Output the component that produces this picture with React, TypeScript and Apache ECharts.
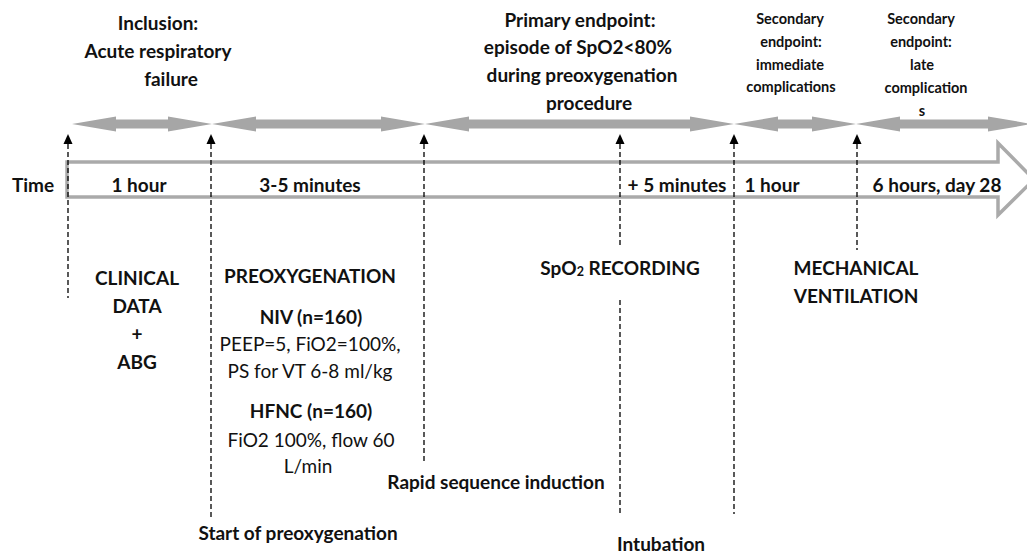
import React, { useEffect, useRef } from "react";
import * as echarts from "echarts";

// ---- data (positions along the drawn timeline, in page units) ----
const phaseStart = [72, 212, 425, 734, 856];
const phaseEnd = [212, 425, 734, 856, 1032];
const timelineStart = [67];
const timelineEnd = [998];
const eventX = [68, 211, 424, 620, 734, 857];
const eventLineEnd = [298, 517, 462, 514, 514, 250];
const eventGapStart = [0, 0, 0, 246, 0, 0];
const eventGapEnd = [0, 0, 0, 300, 0, 0];

const intervalLabels = ["Time", "1 hour", "3-5 minutes", "+ 5 minutes", "1 hour", "6 hours, day 28"];
const inclusionLines = ["Inclusion:", "Acute respiratory", "failure"];
const primaryLines = ["Primary endpoint:", "episode of SpO2<80%", "during preoxygenation", "procedure"];
const secondary1Lines = ["Secondary", "endpoint:", "immediate", "complications"];
const secondary2Lines = ["Secondary", "endpoint:", "late", "complication", "s"];
const clinicalLines = ["CLINICAL", "DATA", "+", "ABG"];
const preoxLines = ["PREOXYGENATION", "NIV (n=160)", "PEEP=5, FiO2=100%,", "PS for VT 6-8 ml/kg", "HFNC (n=160)", "FiO2 100%, flow 60", "L/min"];
const preoxBold = [true, true, false, false, true, false, false];
const mechLines = ["MECHANICAL", "VENTILATION"];
const bottomLabels = ["Rapid sequence induction", "Start of preoxygenation", "Intubation"];

// ---- layout ----
const W = 1027;
const H = 555;
const ARROW_Y = 124;
const TL_TOP = 162;
const TL_BOT = 197;
const HEAD_TOP = 143;
const HEAD_BOT = 215;
const HEAD_TIP = 1034;
const MARK_TIP = 134;
const FONT = "Lato";
const BIG = 19;
const SMALL = 14.5;
const TXT = "#111";
const GRAY = "#a6a6a6";

const intervalX = [33, 139, 310, 677, 772, 937];
const inclusionPos = [[158, 22], [158, 50], [171, 78]];
const primaryPos = [[580, 19], [578, 46], [582, 74], [589, 102]];
const sec1Pos = [[790, 18], [791, 41], [790, 64], [791, 86]];
const sec2Pos = [[921, 18], [921, 41], [922, 64], [926, 87], [922, 110]];
const clinicalPos = [[137, 277], [137, 305], [137, 333], [137, 361]];
const preoxPos = [[310, 275], [311, 316], [310, 343], [310, 370], [311, 410], [311, 439], [308, 465]];
const mechPos = [[856, 267], [856, 295]];
const bottomPos = [[496, 481], [298, 532], [661, 543]];

function txt(text: string, x: number, y: number, size: number, bold = true): any {
  return {
    type: "text",
    x,
    y,
    z: 10,
    style: {
      text,
      fill: TXT,
      font: `${bold ? "bold " : ""}${size}px ${FONT}`,
      fontFamily: FONT,
      fontSize: size,
      fontWeight: bold ? "bold" : "normal",
      textAlign: "center",
      textVerticalAlign: "middle",
    },
  };
}

export default function App() {
  const ref = useRef<HTMLDivElement>(null);
  useEffect(() => {
    if (!ref.current) return;
    const chart = echarts.init(ref.current, null, { renderer: "svg" });

    const graphics: any[] = [];
    intervalLabels.forEach((t, i) => graphics.push(txt(t, intervalX[i], 184, BIG)));
    inclusionLines.forEach((t, i) => graphics.push(txt(t, inclusionPos[i][0], inclusionPos[i][1], BIG)));
    primaryLines.forEach((t, i) => graphics.push(txt(t, primaryPos[i][0], primaryPos[i][1], BIG)));
    secondary1Lines.forEach((t, i) => graphics.push(txt(t, sec1Pos[i][0], sec1Pos[i][1], SMALL)));
    secondary2Lines.forEach((t, i) => graphics.push(txt(t, sec2Pos[i][0], sec2Pos[i][1], SMALL)));
    clinicalLines.forEach((t, i) => graphics.push(txt(t, clinicalPos[i][0], clinicalPos[i][1], BIG)));
    preoxLines.forEach((t, i) => graphics.push(txt(t, preoxPos[i][0], preoxPos[i][1], BIG, preoxBold[i])));
    mechLines.forEach((t, i) => graphics.push(txt(t, mechPos[i][0], mechPos[i][1], BIG)));
    bottomLabels.forEach((t, i) => graphics.push(txt(t, bottomPos[i][0], bottomPos[i][1], BIG)));
    graphics.push({
      type: "text",
      x: 620,
      y: 267,
      z: 10,
      style: {
        text: "{n|SpO}{s|2}{n| RECORDING}",
        textAlign: "center",
        textVerticalAlign: "middle",
        rich: {
          n: { fontFamily: FONT, fontSize: BIG, fontWeight: "bold", fill: TXT, color: TXT },
          s: { fontFamily: FONT, fontSize: 12.5, fontWeight: "bold", fill: TXT, color: TXT, padding: [8, 0, 0, 0] },
        },
      },
    });

    chart.setOption({
      animation: false,
      grid: { left: 0, right: 0, top: 0, bottom: 0, containLabel: false },
      xAxis: { type: "value", min: 0, max: W, show: false },
      yAxis: { type: "value", min: 0, max: H, inverse: true, show: false },
      series: [
        {
          type: "custom",
          name: "timeline",
          coordinateSystem: "cartesian2d",
          data: timelineStart.map((s, i) => [s, timelineEnd[i]]),
          renderItem: (params: any, api: any) => {
            const a = api.coord([api.value(0), TL_TOP]);
            const b = api.coord([api.value(1), TL_BOT]);
            const ht = api.coord([api.value(1), HEAD_TOP]);
            const hb = api.coord([api.value(1), HEAD_BOT]);
            const tip = api.coord([HEAD_TIP, (TL_TOP + TL_BOT) / 2]);
            return {
              type: "polygon",
              shape: {
                points: [
                  [a[0], a[1]],
                  [b[0], a[1]],
                  [ht[0], ht[1]],
                  [tip[0], tip[1]],
                  [hb[0], hb[1]],
                  [b[0], b[1]],
                  [a[0], b[1]],
                ],
              },
              style: { fill: "#fff", stroke: "#aaaaaa", lineWidth: 3.5, lineJoin: "miter" },
            };
          },
        },
        {
          type: "custom",
          name: "phases",
          coordinateSystem: "cartesian2d",
          data: phaseStart.map((s, i) => [s, phaseEnd[i]]),
          renderItem: (params: any, api: any) => {
            const p0 = api.coord([api.value(0), ARROW_Y]);
            const p1 = api.coord([api.value(1), ARROW_Y]);
            const y = p0[1];
            const hl = 44, hh = 7.5, bh = 4.5;
            return {
              type: "polygon",
              shape: {
                points: [
                  [p0[0], y],
                  [p0[0] + hl, y - hh],
                  [p0[0] + hl, y - bh],
                  [p1[0] - hl, y - bh],
                  [p1[0] - hl, y - hh],
                  [p1[0], y],
                  [p1[0] - hl, y + hh],
                  [p1[0] - hl, y + bh],
                  [p0[0] + hl, y + bh],
                  [p0[0] + hl, y + hh],
                ],
              },
              style: { fill: GRAY, stroke: null },
            };
          },
        },
        {
          type: "custom",
          name: "events",
          coordinateSystem: "cartesian2d",
          data: eventX.map((x, i) => [x, eventLineEnd[i], eventGapStart[i], eventGapEnd[i]]),
          renderItem: (params: any, api: any) => {
            const x = api.value(0);
            const tip = api.coord([x, MARK_TIP]);
            const base = tip[1] + 10;
            const end = api.coord([x, api.value(1)]);
            const gs = api.value(2);
            const ge = api.value(3);
            const dash = { stroke: "#000", lineWidth: 1.3, lineDash: [5, 3] };
            const children: any[] = [
              {
                type: "polygon",
                shape: { points: [[tip[0], tip[1]], [tip[0] - 4.5, base], [tip[0] + 4.5, base]] },
                style: { fill: "#000" },
              },
            ];
            if (gs > 0) {
              const g0 = api.coord([x, gs]);
              const g1 = api.coord([x, ge]);
              children.push({ type: "line", shape: { x1: tip[0], y1: base, x2: tip[0], y2: g0[1] }, style: dash });
              children.push({ type: "line", shape: { x1: tip[0], y1: g1[1], x2: tip[0], y2: end[1] }, style: dash });
            } else {
              children.push({ type: "line", shape: { x1: tip[0], y1: base, x2: tip[0], y2: end[1] }, style: dash });
            }
            return { type: "group", children };
          },
        },
      ],
      graphic: graphics,
    });
    return () => chart.dispose();
  }, []);
  return (
    <div
      ref={ref}
      style={{ position: "absolute", left: 0, top: 0, width: W, height: H, background: "#fff" }}
    />
  );
}
